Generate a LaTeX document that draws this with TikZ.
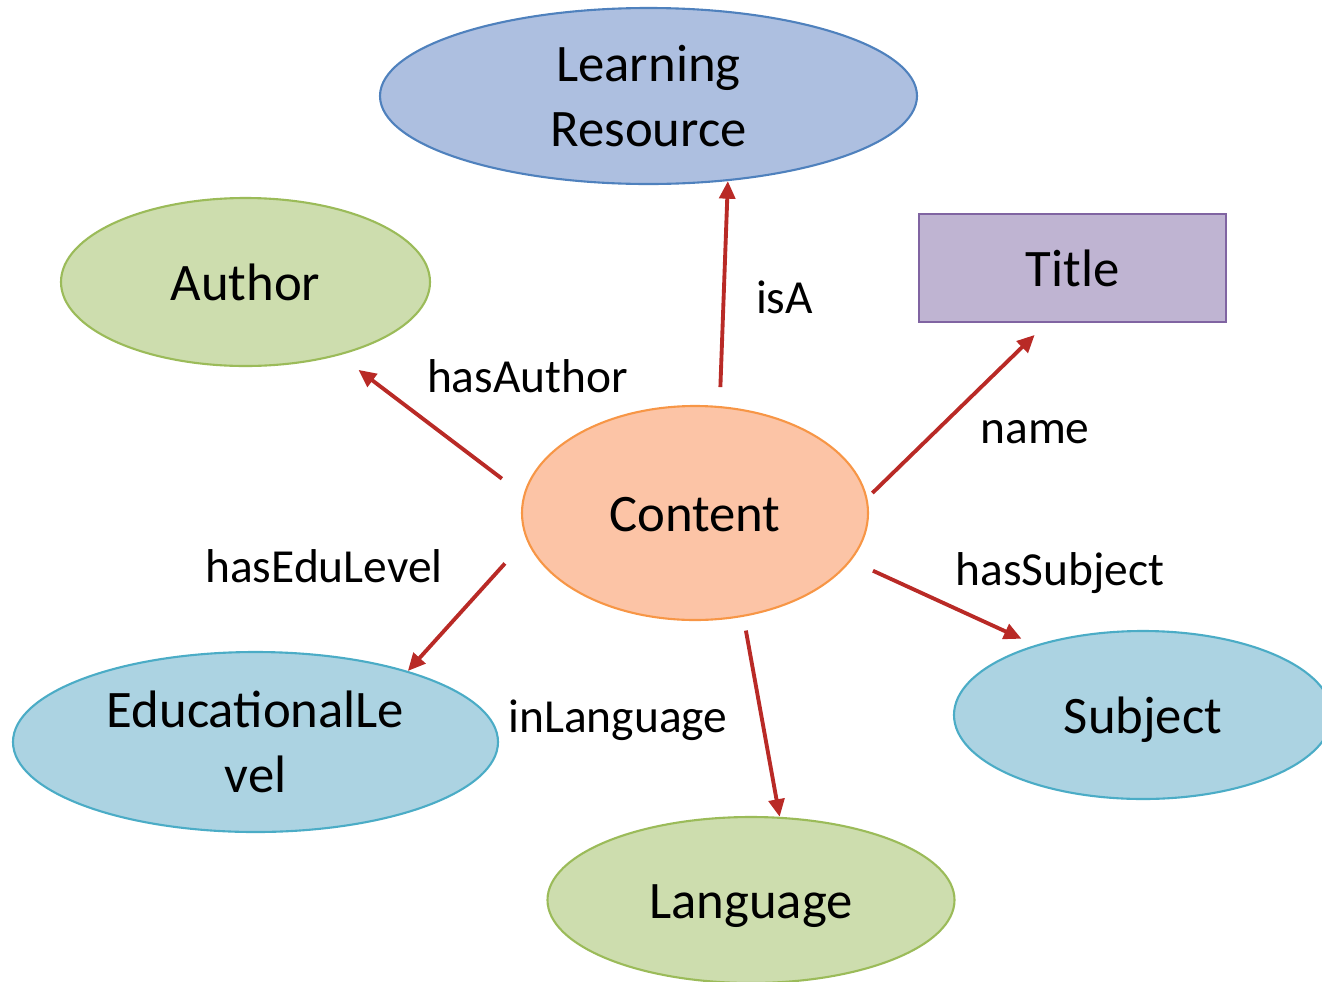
\documentclass[tikz,border=0pt]{standalone}
\usepackage{fontspec}
\setmainfont{Carlito}
\usetikzlibrary{shapes.geometric,arrows.meta}
\definecolor{lrfill}{RGB}{173,191,224}
\definecolor{lrline}{RGB}{79,129,189}
\definecolor{grfill}{RGB}{205,221,174}
\definecolor{grline}{RGB}{155,187,89}
\definecolor{vifill}{RGB}{191,180,210}
\definecolor{viline}{RGB}{128,100,162}
\definecolor{orfill}{RGB}{252,196,166}
\definecolor{orline}{RGB}{247,150,70}
\definecolor{blfill}{RGB}{172,211,226}
\definecolor{blline}{RGB}{75,172,198}
\definecolor{relred}{RGB}{185,42,38}

\begin{document}
\begin{tikzpicture}[
  cls/.style={ellipse,inner sep=0pt,line width=0.6pt,align=center,
    font=\fontsize{15}{18.5}\selectfont},
  one/.style={text height=10.8pt,text depth=0pt},
  rel/.style={-{Triangle[length=5pt,width=4.5pt]},line width=1.1pt,draw=relred,fill=relred},
  lbl/.style={anchor=base,font=\fontsize{13.5}{16}\selectfont}
]
\useasboundingbox (0,0) rectangle (13.22,-9.81);

% classes
\node[cls,fill=lrfill,draw=lrline,minimum width=5.37cm,minimum height=1.76cm] (lr) at (6.485,-0.96) {Learning\\Resource};
\node[cls,one,fill=grfill,draw=grline,minimum width=3.69cm,minimum height=1.68cm] (author) at (2.455,-2.82) {Author};
\node[rectangle,one,fill=vifill,draw=viline,line width=0.6pt,minimum width=3.07cm,minimum height=1.08cm,
  font=\fontsize{15}{18.5}\selectfont] (title) at (10.725,-2.68) {Title};
\node[cls,one,fill=orfill,draw=orline,minimum width=3.46cm,minimum height=2.14cm] (content) at (6.95,-5.13) {Content};
\node[cls,fill=blfill,draw=blline,minimum width=4.85cm,minimum height=1.80cm] (edu) at (2.555,-7.42) {EducationalLe\\vel};
\node[cls,one,fill=grfill,draw=grline,minimum width=4.07cm,minimum height=1.66cm] (lang) at (7.51,-9.00) {Language};
\node[cls,one,fill=blfill,draw=blline,minimum width=3.78cm,minimum height=1.68cm] (subj) at (11.43,-7.15) {Subject};

% relations
\draw[rel,shorten <=0.19cm] (content.77.6) -- (lr.-47.3);
\draw[rel,shorten <=0.27cm,shorten >=0.24cm] (content.174) -- (author.-38.2);
\draw[rel,shorten <=0.07cm,shorten >=0.17cm] (content.5.7) -- (title.245.2);
\draw[rel,shorten <=0.32cm] (content.189.2) -- (edu.25.7);
\draw[rel,shorten <=0.14cm] (content.-65.7) -- (lang.71.5);
\draw[rel,shorten <=0.24cm,shorten >=0.15cm] (content.-17.6) -- (subj.147.8);

\node[lbl] (isa) at (7.845,-3.13) {isA};
\node[lbl] (hasauthor) at (5.275,-3.927) {hasAuthor};
\node[lbl] (name) at (10.35,-4.43) {name};
\node[lbl] (hasedu) at (3.24,-5.827) {hasEduLevel};
\node[lbl] (inlang) at (6.18,-7.327) {inLanguage};
\node[lbl] (hassubj) at (10.60,-5.85) {hasSubject};
\end{tikzpicture}
\end{document}
